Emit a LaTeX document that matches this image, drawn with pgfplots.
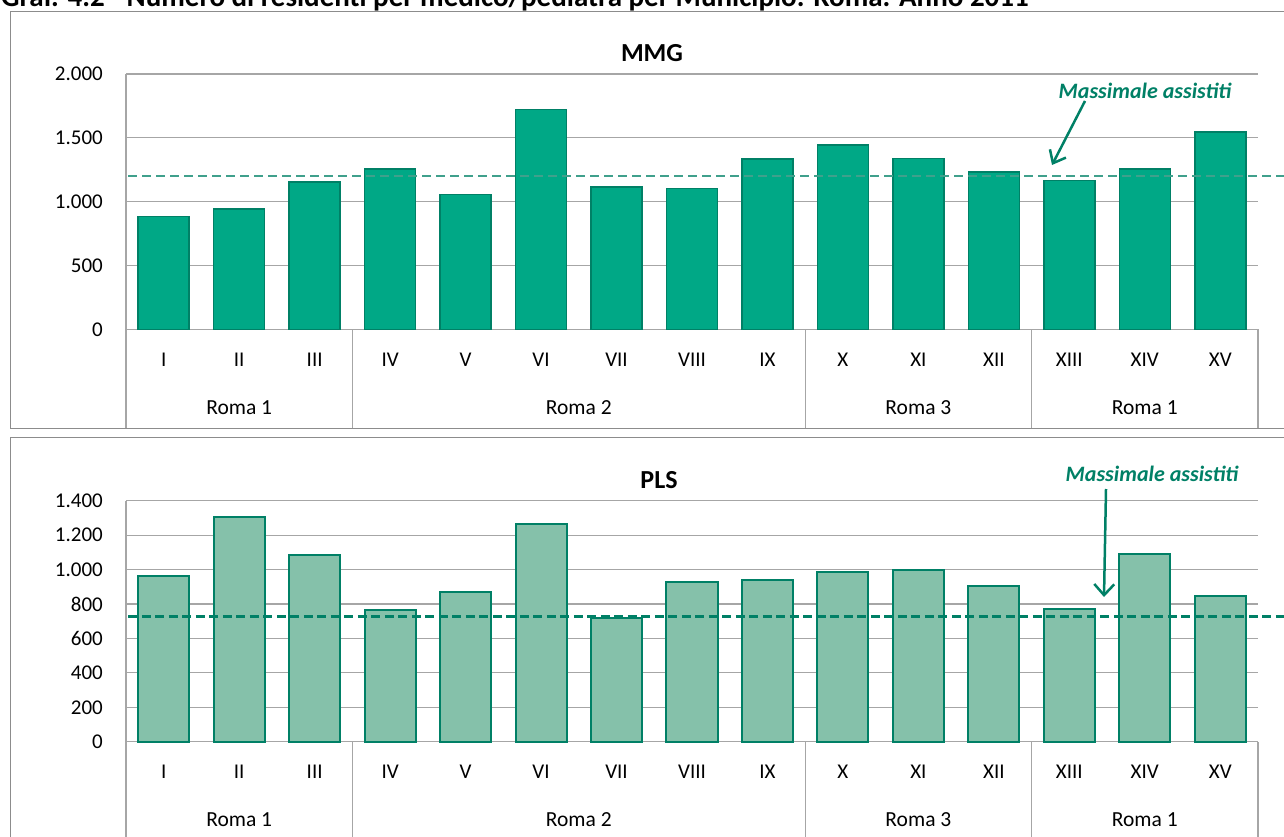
\documentclass[border=0pt]{standalone}
\usepackage{fontspec}
\setmainfont{Carlito}
\usepackage{pgfplots}
\pgfplotsset{compat=1.18}
\usetikzlibrary{arrows.meta}
\definecolor{barA}{HTML}{00A886}
\definecolor{edge}{HTML}{008066}
\definecolor{barB}{HTML}{85C1AA}
\definecolor{gridc}{HTML}{A6A6A6}
\definecolor{framec}{HTML}{8C8C8C}
\tikzset{grp/.style={yshift=-78pt, font=\fontsize{21.5}{25}\selectfont}}
\pgfplotsset{
  mystyle/.style={
    scale only axis, width=1132pt,
    xmin=-0.5, xmax=14.5, ymin=0,
    clip=false,
    axis x line*=bottom, axis y line*=left,
    axis line style={draw=gridc, line width=1.2pt, -},
    ymajorgrids, grid style={draw=gridc, line width=1.2pt},
    xtick={0,...,14},
    xticklabels={I,II,III,IV,V,VI,VII,VIII,IX,X,XI,XII,XIII,XIV,XV},
    major tick length=0pt,
    tick label style={font=\fontsize{21}{25}\selectfont},
    x tick label style={anchor=center, yshift=-30pt},
    y tick label style={anchor=east, xshift=-23pt, inner sep=0pt},
    extra x ticks={-0.5,2.5,8.5,11.5,14.5},
    extra x tick labels={},
    extra x tick style={major tick length=99pt, tick align=outside,
      tick style={draw=gridc, line width=1.2pt}, xmajorgrids=false},
    scaled y ticks=false,
    /pgf/number format/1000 sep={.},
    /pgf/number format/assume math mode=true,
  }
}
\pgfplotstableread{
x mmg pls
0 883 962
1 943 1303
2 1154 1086
3 1255 765
4 1055 870
5 1723 1264
6 1114 721
7 1104 928
8 1333 937
9 1442 984
10 1338 997
11 1231 904
12 1166 771
13 1255 1092
14 1544 846
}\datatable
\begin{document}
\begin{tikzpicture}[x=1pt,y=1pt]
\clip (0,0) rectangle (1284,-837);
\path[use as bounding box] (0,0) rectangle (1284,-837);
% frames
\draw[framec, line width=1pt] (10,-12) rectangle (1300,-428);
\draw[framec, line width=1pt] (10,-437) rectangle (1300,-860);
% title, cropped at the top edge as in the source
\node[anchor=base west, inner sep=0pt, font=\bfseries\fontsize{29}{33}\selectfont] at (1,-7)
  {Graf. 4.2 - Numero di residenti per medico/pediatra per Municipio. Roma. Anno 2011};
% ---------- MMG ----------
\begin{axis}[mystyle, height=255.3pt, at={(126pt,-329.3pt)}, anchor=south west,
  ymax=2000, ytick={0,500,...,2000}]
\addplot[ybar, bar width=51pt, fill=barA, draw=edge, line width=1.5pt] table[x=x,y=mmg]{\datatable};
\addplot[edge!75, line width=1.5pt, dash pattern=on 9pt off 5pt] coordinates {(-0.47,1200) (15,1200)};
\node at (axis cs:1,0) [grp] {Roma 1};
\node at (axis cs:5.5,0) [grp] {Roma 2};
\node at (axis cs:10,0) [grp] {Roma 3};
\node at (axis cs:13,0) [grp] {Roma 1};
\end{axis}
\node[font=\bfseries\fontsize{26}{30}\selectfont] at (652,-53) {MMG};
\node[text=edge, font=\bfseries\itshape\fontsize{22}{26}\selectfont] at (1145,-91) {Massimale assistiti};
\draw[edge, line width=2.5pt, -{Straight Barb[length=11pt, width=18pt, line width=2.5pt]}] (1085,-101) -- (1052,-165);
% ---------- PLS ----------
\begin{axis}[mystyle, height=241pt, at={(126pt,-741.7pt)}, anchor=south west,
  ymax=1400, ytick={0,200,...,1400}]
\addplot[ybar, bar width=51pt, fill=barB, draw=edge, line width=2pt] table[x=x,y=pls]{\datatable};
\addplot[edge, line width=3pt, dash pattern=on 9pt off 4.5pt] coordinates {(-0.47,725) (15,725)};
\node at (axis cs:1,0) [grp] {Roma 1};
\node at (axis cs:5.5,0) [grp] {Roma 2};
\node at (axis cs:10,0) [grp] {Roma 3};
\node at (axis cs:13,0) [grp] {Roma 1};
\end{axis}
\node[font=\bfseries\fontsize{26}{30}\selectfont] at (659,-480) {PLS};
\node[text=edge, font=\bfseries\itshape\fontsize{22}{26}\selectfont] at (1152,-474) {Massimale assistiti};
\draw[edge, line width=2.5pt, -{Straight Barb[length=11pt, width=20pt, line width=2.5pt]}] (1106,-489) -- (1104,-597);
\end{tikzpicture}
\end{document}
